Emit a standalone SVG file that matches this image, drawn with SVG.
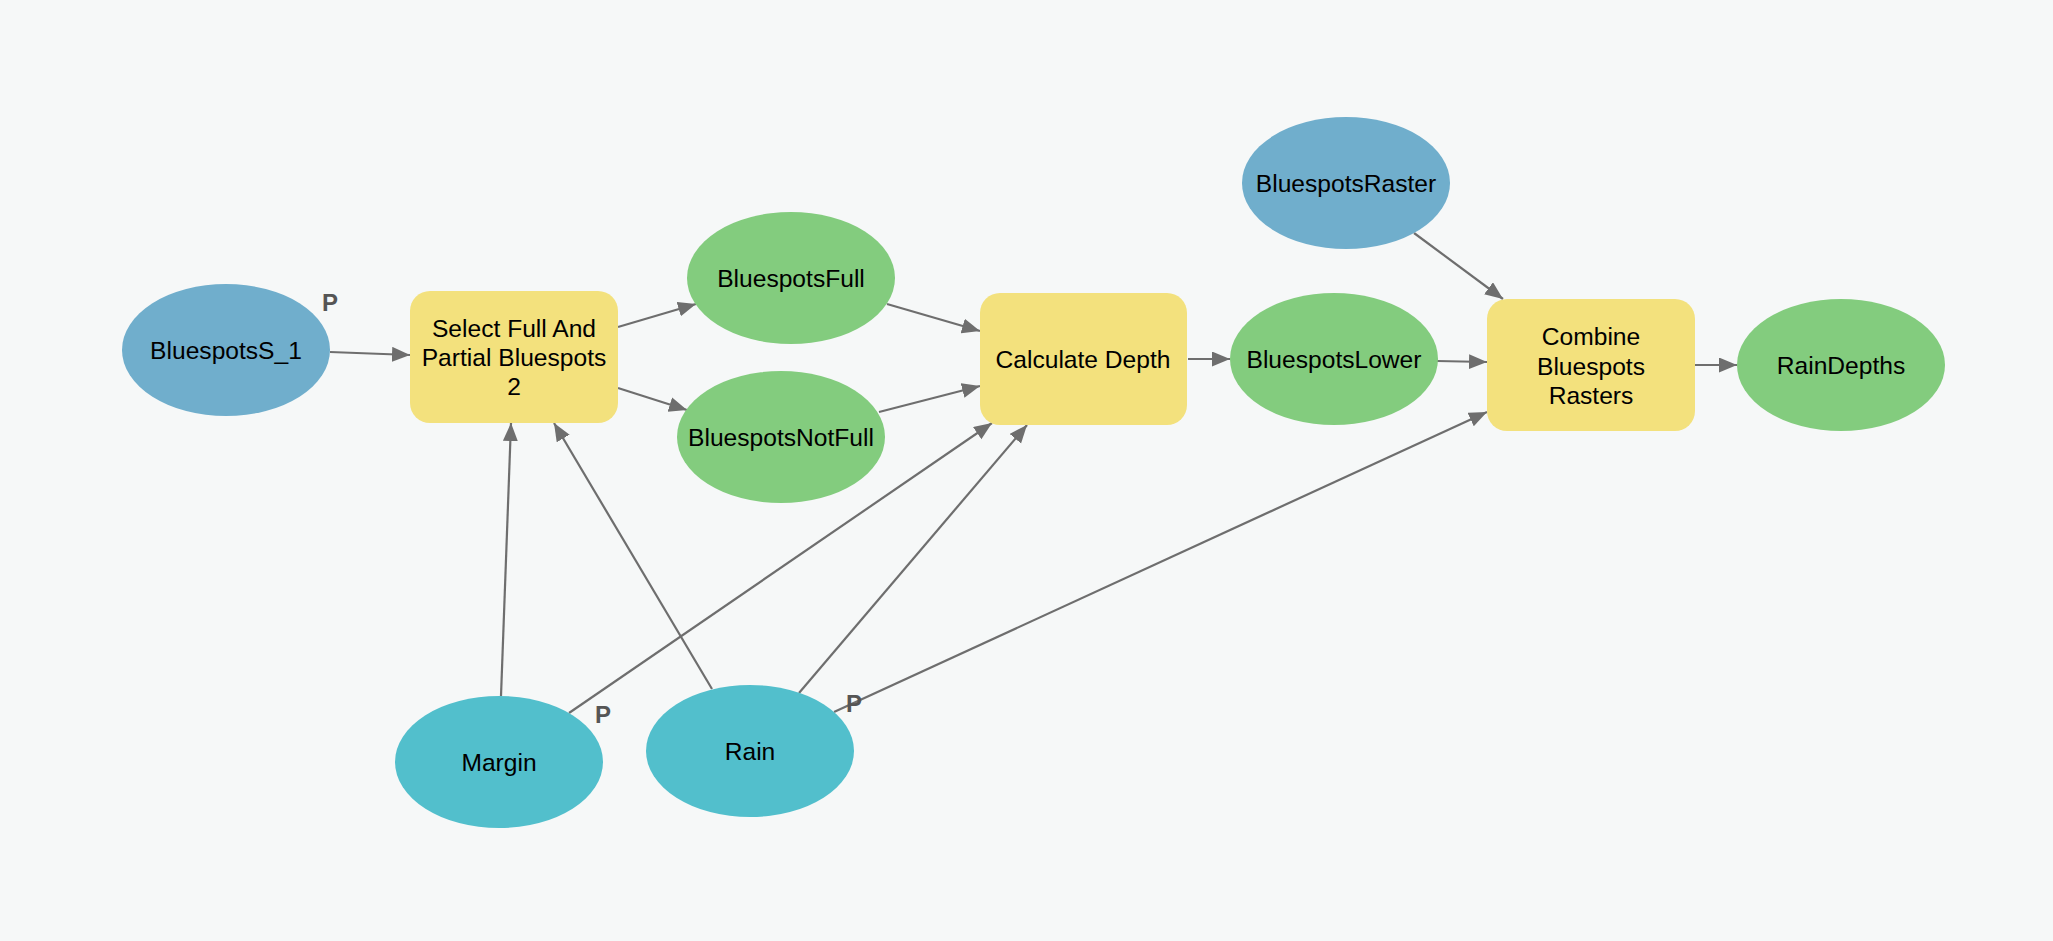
<svg xmlns="http://www.w3.org/2000/svg" width="2053" height="941" viewBox="0 0 2053 941">
<defs>
<marker id="arr" markerUnits="userSpaceOnUse" markerWidth="19" markerHeight="16" refX="18" refY="7.5" orient="auto">
<path d="M0,0 L18,7.5 L0,15 z" fill="#6e6e6e"/>
</marker>
<style>
.bg{fill:#f6f8f8}
.in{fill:#70aecc}
.out{fill:#83cc7e}
.par{fill:#52bfcc}
.tool{fill:#f3e17d}
.lbl{font-family:"Liberation Sans",Arial,sans-serif;font-size:24.6px;fill:#000;text-anchor:middle;dominant-baseline:central}
.p{font-family:"Liberation Sans",Arial,sans-serif;font-size:24px;font-weight:bold;fill:#555;text-anchor:middle;dominant-baseline:central}
.c{stroke:#6e6e6e;stroke-width:2.2;fill:none;marker-end:url(#arr)}
</style>
</defs>
<rect class="bg" x="0" y="0" width="2053" height="941"/>
<g id="connectors">
<line class="c" x1="330" y1="352" x2="410" y2="355"/>
<line class="c" x1="618" y1="327" x2="696" y2="304"/>
<line class="c" x1="618" y1="388" x2="687" y2="410"/>
<line class="c" x1="887" y1="304" x2="980" y2="331"/>
<line class="c" x1="879" y1="412" x2="980" y2="386"/>
<line class="c" x1="1188" y1="359" x2="1230" y2="359"/>
<line class="c" x1="1414" y1="233" x2="1503" y2="299"/>
<line class="c" x1="1437" y1="361" x2="1487" y2="362"/>
<line class="c" x1="1695" y1="365" x2="1737" y2="365"/>
<line class="c" x1="834" y1="712" x2="1487" y2="412"/>
<line class="c" x1="501" y1="696" x2="511" y2="423"/>
<line class="c" x1="712" y1="689" x2="554" y2="423"/>
<line class="c" x1="569" y1="713" x2="992" y2="423"/>
<line class="c" x1="799" y1="693" x2="1027" y2="425"/>
</g>
<g id="BluespotsS_1">
<ellipse class="in" cx="226" cy="350" rx="104" ry="66"/>
<text class="lbl" x="226" y="350">BluespotsS_1</text>
<text class="p" x="330" y="302">P</text>
</g>
<g id="SelectFull">
<rect class="tool" x="410" y="291" width="208" height="132" rx="20" ry="20"/>
<text class="lbl" x="514" y="328">Select Full And</text>
<text class="lbl" x="514" y="357">Partial Bluespots</text>
<text class="lbl" x="514" y="386">2</text>
</g>
<g id="BluespotsFull">
<ellipse class="out" cx="791" cy="278" rx="104" ry="66"/>
<text class="lbl" x="791" y="278">BluespotsFull</text>
</g>
<g id="BluespotsNotFull">
<ellipse class="out" cx="781" cy="437" rx="104" ry="66"/>
<text class="lbl" x="781" y="437">BluespotsNotFull</text>
</g>
<g id="CalculateDepth">
<rect class="tool" x="980" y="293" width="207" height="132" rx="20" ry="20"/>
<text class="lbl" x="1083" y="359">Calculate Depth</text>
</g>
<g id="BluespotsLower">
<ellipse class="out" cx="1334" cy="359" rx="104" ry="66"/>
<text class="lbl" x="1334" y="359">BluespotsLower</text>
</g>
<g id="BluespotsRaster">
<ellipse class="in" cx="1346" cy="183" rx="104" ry="66"/>
<text class="lbl" x="1346" y="183">BluespotsRaster</text>
</g>
<g id="CombineRasters">
<rect class="tool" x="1487" y="299" width="208" height="132" rx="20" ry="20"/>
<text class="lbl" x="1591" y="336">Combine</text>
<text class="lbl" x="1591" y="366">Bluespots</text>
<text class="lbl" x="1591" y="395">Rasters</text>
</g>
<g id="RainDepths">
<ellipse class="out" cx="1841" cy="365" rx="104" ry="66"/>
<text class="lbl" x="1841" y="365">RainDepths</text>
</g>
<g id="Margin">
<ellipse class="par" cx="499" cy="762" rx="104" ry="66"/>
<text class="lbl" x="499" y="762">Margin</text>
<text class="p" x="603" y="714">P</text>
</g>
<g id="Rain">
<ellipse class="par" cx="750" cy="751" rx="104" ry="66"/>
<text class="lbl" x="750" y="751">Rain</text>
<text class="p" x="854" y="703">P</text>
</g>
</svg>
